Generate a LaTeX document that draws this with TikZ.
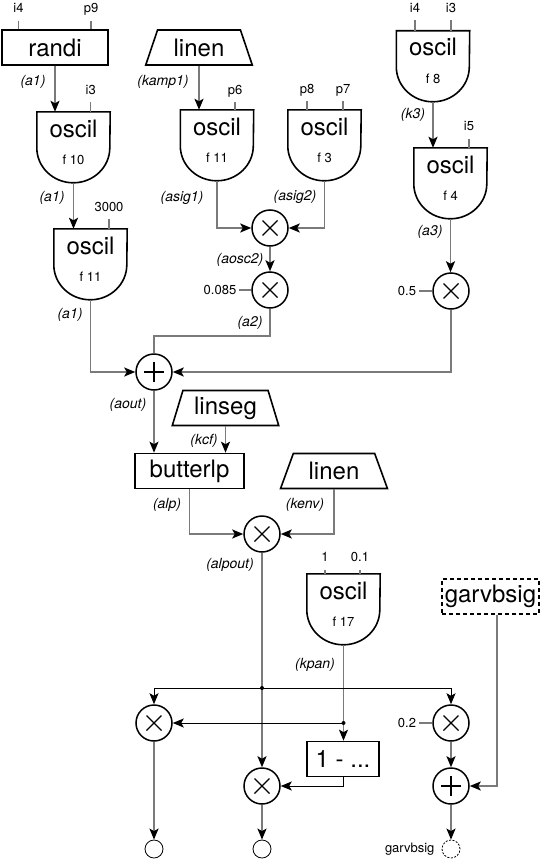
\documentclass[tikz,border=0pt]{standalone}
\usepackage{fontspec}
\setmainfont{TeX Gyre Heros}
\usetikzlibrary{
    shapes.geometric,
    arrows.meta
}
\newcommand{\bigfont}{\fontsize{24}{27.7}\selectfont}
\newcommand{\parmfont}{\fontsize{13}{15}\selectfont}
\newcommand{\sigfont}{\fontsize{14}{16}\selectfont\itshape}
\tikzset{
  unit/.style = {
      draw,
      line width=1.6pt,
      inner sep=0pt,
      font=\bigfont
  },
  opbox/.style = {
      unit,
      rectangle,
      minimum height=35pt
  },
  env/.style = {
      unit,
      trapezium,
      trapezium angle=68,
      trapezium stretches=true,
      minimum width=107pt,
      minimum height=35pt
  },
  oscil/.style = {
      rectangle,
      minimum width=73pt,
      inner sep=0pt,
      text height=52.7pt,
      text depth=18.3pt,
      align=center,
      font=\bigfont
  },
  osc line/.style = {
      line width=1.6pt
  },
  op/.style = {
      circle,
      draw,
      line width=1.5pt,
      minimum size=36pt,
      inner sep=0pt
  },
  mult/.style = {
      op,
      path picture={
        \draw[line width=1.3pt]
          ([shift={(-7.5pt,-7.5pt)}]path picture bounding box.center) --
          ([shift={(7.5pt,7.5pt)}]path picture bounding box.center)
          ([shift={(-7.5pt,7.5pt)}]path picture bounding box.center) --
          ([shift={(7.5pt,-7.5pt)}]path picture bounding box.center);
      }
  },
  add/.style = {
      op,
      path picture={
        \draw[line width=1.3pt]
          ([xshift=-10pt]path picture bounding box.center) --
          ([xshift=10pt]path picture bounding box.center)
          ([yshift=-10pt]path picture bounding box.center) --
          ([yshift=10pt]path picture bounding box.center);
      }
  },
  outc/.style = {
      circle,
      draw,
      line width=0.8pt,
      minimum size=18pt,
      inner sep=0pt
  },
  parm/.style = {
      font=\parmfont,
      inner sep=0pt,
      text height=9.2pt,
      text depth=0pt,
      outer xsep=3pt,
      outer ysep=8pt
  },
  signame/.style = {
      font=\sigfont,
      inner sep=1pt
  },
  sig/.style = {
      draw=black!52,
      line width=1.8pt
  },
  ctl/.style = {
      draw=black,
      line width=1pt
  },
  stub/.style = {
      draw=black!52,
      line width=1.4pt
  },
  arr/.style = {
      -{Stealth[length=11pt, width=9pt, inset=2.5pt, color=black]}
  }
}
\begin{document}
\begin{tikzpicture}[x=1pt, y=-1pt]
    \useasboundingbox (0,0) rectangle (551,859);
    % Units
    \node[opbox, minimum width=106pt] (randi) at (55,47.5) {randi};
    \node[env] (lin1) at (199,47.5) {linen};
    \node[oscil] (o1) at (73.5,147.5) {oscil\\{\parmfont f 10}};
    \node[oscil] (o2) at (217,145.5) {oscil\\{\parmfont f 11}};
    \node[oscil] (o3) at (324.5,145.5) {oscil\\{\parmfont f 3}};
    \node[oscil] (o4) at (433,66.5) {oscil\\{\parmfont f 8}};
    \node[oscil] (o5) at (450.5,183.5) {oscil\\{\parmfont f 4}};
    \node[oscil] (o6) at (90.5,264.5) {oscil\\{\parmfont f 11}};
    \node[env, trapezium angle=71] (lseg) at (225.5,408) {linseg};
    \node[opbox, minimum width=109pt] (blp) at (189.5,471) {butterlp};
    \node[env, trapezium angle=66] (lin2) at (334,471) {linen};
    \node[oscil] (o7) at (343.5,609.5) {oscil\\{\parmfont f 17}};
    \node[opbox, dashed, dash pattern=on 4pt off 3pt, minimum width=97pt] (garv) at (490.5,596.5) {garvbsig};
    \node[opbox, minimum width=72pt] (onem) at (343,759) {1 - ...};
    % Operators
    \node[mult] (m1) at (270,228) {};
    \node[mult] (m2) at (270,290) {};
    \node[mult] (m3) at (451,291) {};
    \node[add] (add1) at (154,372) {};
    \node[mult] (m4) at (262,534) {};
    \node[mult] (mL) at (154,723) {};
    \node[mult] (mR) at (451,723) {};
    \node[mult] (mM) at (262,786) {};
    \node[add] (addR) at (451,786) {};
    \node[outc] (outL) at (154,849) {};
    \node[outc] (outM) at (262,849) {};
    \node[outc, dashed, dash pattern=on 2pt off 1.5pt] (outR) at (451,849) {};
    \node[font=\parmfont, anchor=east] (gout) at (438,849) {garvbsig};
    % Parameters
    \node[parm] (ri4) at (18.5,8) {i4};
    \node[parm] (rp9) at (91,8) {p9};
    \node[parm] (o1i3) at (90.7,89.5) {i3};
    \node[parm] (o2p6) at (235,89.5) {p6};
    \node[parm] (o3p8) at (307,88.8) {p8};
    \node[parm] (o3p7) at (343,88.8) {p7};
    \node[parm] (o4i4) at (415,7.5) {i4};
    \node[parm] (o4i3) at (451,7.5) {i3};
    \node[parm] (o5i5) at (469,126) {i5};
    \node[parm] (o6amp) at (109,206.5) {3000};
    \node[parm] (o7amp) at (325,557) {1};
    \node[parm] (o7cps) at (360,557) {0.1};
    \node[parm] (k085) at (220,290) {0.085};
    \node[parm] (k05) at (407,291) {0.5};
    \node[parm] (k02) at (407,723) {0.2};
    % Signal names
    \node[signame] (sa1) at (33,82) {(a1)};
    \node[signame] (skamp1) at (163,82) {(kamp1)};
    \node[signame] (sa1b) at (52,198) {(a1)};
    \node[signame] (sasig1) at (182,198) {(asig1)};
    \node[signame] (sasig2) at (295,197) {(asig2)};
    \node[signame] (sk3) at (413,115) {(k3)};
    \node[signame] (sa1c) at (70,315) {(a1)};
    \node[signame] (saosc2) at (240,260) {(aosc2)};
    \node[signame] (sa2) at (250,323) {(a2)};
    \node[signame] (sa3) at (430,232) {(a3)};
    \node[signame] (saout) at (128,405) {(aout)};
    \node[signame] (skcf) at (204,441) {(kcf)};
    \node[signame] (salp) at (167,505) {(alp)};
    \node[signame] (skenv) at (305,505) {(kenv)};
    \node[signame] (salpout) at (230,565) {(alpout)};
    \node[signame] (skpan) at (315,665) {(kpan)};
    % Oscil outlines
    \foreach \o in {o1,o2,o3,o4,o5,o6,o7}
      \draw[osc line] (\o.north west) -- ++(0,36)
        arc[start angle=180, end angle=360, x radius=36.5pt, y radius=35pt]
        -- (\o.north east) -- cycle;
    % Stubs
    \foreach \p/\u in {ri4/randi,rp9/randi,o1i3/o1,o2p6/o2,o3p8/o3,o3p7/o3,
                       o4i4/o4,o4i3/o4,o5i5/o5,o6amp/o6,o7amp/o7,o7cps/o7}
      \draw[stub] (\p.south) -- (\p.south |- \u.north);
    \draw[stub] (k085.east) -- (m2.west);
    \draw[stub] (k05.east) -- (m3.west);
    \draw[stub] (k02.east) -- (mR.west);
    % Edges
    \coordinate (c1) at (154,336);
    \coordinate (j1) at (262,688);
    \coordinate (j2) at (o7.south |- mL.east);
    \draw[sig, arr] (randi.south) -- (randi.south |- o1.north);
    \draw[sig, arr] (lin1.south) -- (lin1.south |- o2.north);
    \draw[sig, arr] (o1.south) -- (o1.south |- o6.north);
    \draw[sig, arr] (o2.south) |- (m1.west);
    \draw[sig, arr] (o3.south) |- (m1.east);
    \draw[sig, arr] (m1) -- (m2);
    \draw[sig] (m2.south) |- (c1) -- (add1.north);
    \draw[sig, arr] (o6.south) |- (add1.west);
    \draw[sig, arr] (o4.south) -- (o4.south |- o5.north);
    \draw[sig, arr] (o5.south) -- (o5.south |- m3.north);
    \draw[sig, arr] (m3.south) |- (add1.east);
    \draw[sig, arr] (add1.south) -- (add1.south |- blp.north);
    \draw[sig, arr] (lseg.south) -- (lseg.south |- blp.north);
    \draw[sig, arr] (blp.south) |- (m4.west);
    \draw[sig, arr] (lin2.south) |- (m4.east);
    \draw[sig, arr] (m4.south) -- (mM.north);
    \draw[sig, arr] (o7.south) -- (o7.south |- onem.north);
    \draw[ctl, arr] (j1) -| (mL.north);
    \draw[ctl, arr] (j1) -| (mR.north);
    \draw[ctl, arr] (j2) -- (mL.east);
    \draw[ctl, arr] (onem.south) |- (mM.east);
    \draw[sig, arr] ([xshift=6.5pt]garv.south) |- (addR.east);
    \draw[sig, arr] (mR) -- (addR);
    \draw[sig, arr] (mL) -- (outL);
    \draw[sig, arr] (mM) -- (outM);
    \draw[sig, arr] (addR) -- (outR);
    \fill (j1) circle (2pt);
    \fill (j2) circle (2pt);
\end{tikzpicture}
\end{document}
